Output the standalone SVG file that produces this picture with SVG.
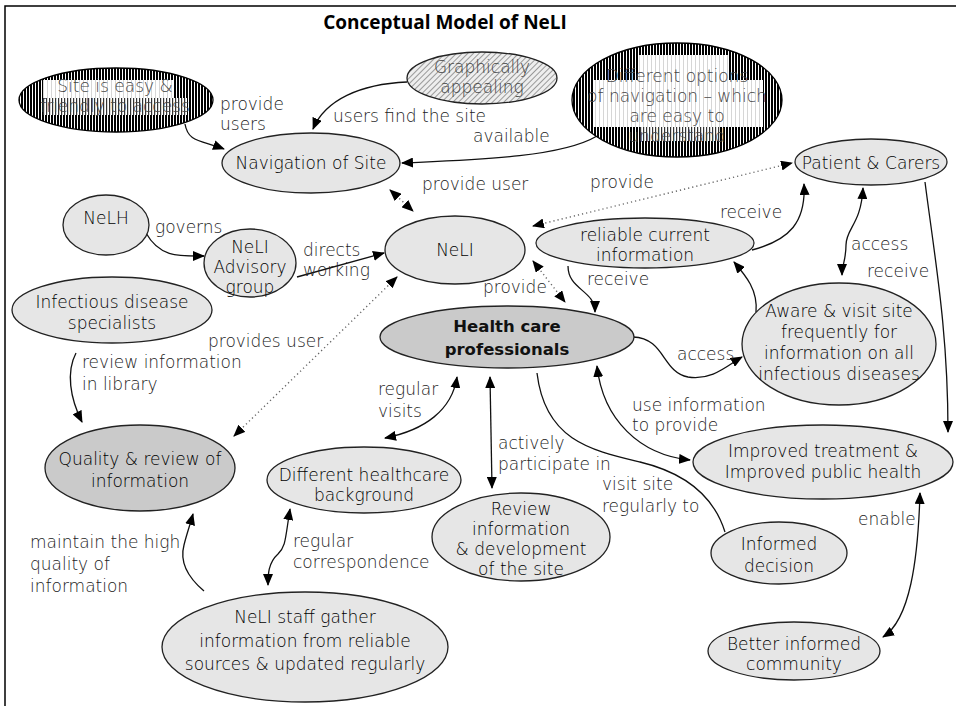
<svg xmlns="http://www.w3.org/2000/svg" width="956" height="715" viewBox="0 0 956 715">
<style>
.lbl{font-family:"DejaVu Sans","Liberation Sans",sans-serif;font-size:17px;font-weight:300;fill:#222}
.nt{font-family:"DejaVu Sans","Liberation Sans",sans-serif;font-size:17px;font-weight:300;fill:#000;text-anchor:middle}
.ntg{font-family:"DejaVu Sans","Liberation Sans",sans-serif;font-size:17px;font-weight:300;fill:#444;text-anchor:middle}
.ntb{font-family:"DejaVu Sans","Liberation Sans",sans-serif;font-size:16.5px;font-weight:bold;fill:#111;text-anchor:middle}
.node{fill:#e6e6e6;stroke:#222;stroke-width:1.3}
.dark{fill:#cacaca;stroke:#222;stroke-width:1.3}
.c{fill:none;stroke:#111;stroke-width:1.3}
.d{fill:none;stroke:#666;stroke-width:1.4;stroke-dasharray:1.2 3}
</style>
<defs>
<marker id="ah" viewBox="0 0 12 10" refX="11" refY="5" markerWidth="12" markerHeight="10" markerUnits="userSpaceOnUse" orient="auto-start-reverse"><path d="M0,0 L12,5 L0,10 z" fill="#000"/></marker>
<pattern id="stripe" width="3" height="4" patternUnits="userSpaceOnUse"><rect width="3" height="4" fill="#000"/><rect x="2" width="1" height="4" fill="#fff"/></pattern>
<pattern id="lstripe" width="4" height="4" patternUnits="userSpaceOnUse"><rect width="4" height="4" fill="#fff"/><rect x="3" width="0.6" height="4" fill="#bbb"/></pattern>
<pattern id="mstripe" width="3" height="4" patternUnits="userSpaceOnUse"><rect width="3" height="4" fill="#fff"/><rect x="1" width="1.2" height="4" fill="#333"/></pattern>
<pattern id="hatch" width="4" height="4" patternUnits="userSpaceOnUse" patternTransform="rotate(45)"><rect width="4" height="4" fill="#eee"/><rect width="1" height="4" fill="#999"/></pattern>
<clipPath id="cp1"><ellipse cx="116" cy="100" rx="97" ry="32"/></clipPath>
<clipPath id="cp2"><ellipse cx="677" cy="100" rx="105" ry="57"/></clipPath>
</defs>
<rect width="956" height="715" fill="#fff"/>
<path d="M5,706 L5,6 L956,6" fill="none" stroke="#000" stroke-width="1.5"/>
<text x="445" y="29" style="font-family:'Open Sans','Noto Sans',sans-serif;font-size:19px;font-weight:bold;fill:#000" text-anchor="middle">Conceptual Model of NeLI</text>

<g id="connectors">
<path class="c" d="M185,124 C188,142 200,140 224,149" marker-end="url(#ah)"/>
<path class="c" d="M407,82 C360,84 325,100 313,129" marker-end="url(#ah)"/>
<path class="c" d="M597,136 C560,158 470,160 402,163" marker-end="url(#ah)"/>
<path class="d" d="M390,190 L413,211" marker-start="url(#ah)" marker-end="url(#ah)"/>
<path class="c" d="M146,233 C160,258 180,256 204,256" marker-end="url(#ah)"/>
<path class="c" d="M297,277 L384,253" marker-end="url(#ah)"/>
<path class="d" d="M234,436 L397,277" marker-start="url(#ah)" marker-end="url(#ah)"/>
<path class="c" d="M76,353 C66,372 70,398 82,422" marker-end="url(#ah)"/>
<path class="d" d="M533,226 L792,163" marker-start="url(#ah)" marker-end="url(#ah)"/>
<path class="c" d="M752,250 C790,240 806,222 804,184" marker-end="url(#ah)"/>
<path class="c" d="M568,266 C568,290 595,290 595,312" marker-end="url(#ah)"/>
<path class="d" d="M533,261 L565,302" marker-start="url(#ah)" marker-end="url(#ah)"/>
<path class="c" d="M633,337 C665,338 662,372 688,377 C712,381 728,365 742,357" marker-end="url(#ah)"/>
<path class="c" d="M756,312 C758,290 746,276 734,262" marker-end="url(#ah)"/>
<path class="c" d="M863,188 C861,225 846,228 846,245 C846,260 842,265 842,275" marker-start="url(#ah)" marker-end="url(#ah)"/>
<path class="c" d="M925,182 C935,260 948,330 948,432" marker-end="url(#ah)"/>
<path class="c" d="M457,377 C452,410 425,430 385,438" marker-start="url(#ah)" marker-end="url(#ah)"/>
<path class="c" d="M490,377 L492,488" marker-start="url(#ah)" marker-end="url(#ah)"/>
<path class="c" d="M537,373 C545,440 590,450 640,462 C690,474 715,500 725,532"/>
<path class="c" d="M597,366 C603,420 640,455 690,460" marker-start="url(#ah)" marker-end="url(#ah)"/>
<path class="c" d="M204,591 C185,575 180,560 184,545 C187,533 190,525 193,514" marker-end="url(#ah)"/>
<path class="c" d="M290,509 C285,540 286,546 278,554 C268,563 268,575 268,585" marker-start="url(#ah)" marker-end="url(#ah)"/>
<path class="c" d="M920,493 C918,560 910,620 883,637" marker-start="url(#ah)" marker-end="url(#ah)"/>
</g>

<g id="labels">
<text class="lbl" x="220" y="110">provide<tspan x="220" dy="20">users</tspan></text>
<text class="lbl" x="333" y="122">users find the site</text>
<text class="lbl" x="473" y="142">available</text>
<text class="lbl" x="422" y="190">provide user</text>
<text class="lbl" x="155" y="233">governs</text>
<text class="lbl" x="303" y="256">directs<tspan x="303" dy="20">working</tspan></text>
<text class="lbl" x="208" y="347">provides user</text>
<text class="lbl" x="82" y="368">review information<tspan x="82" dy="22">in library</tspan></text>
<text class="lbl" x="590" y="188">provide</text>
<text class="lbl" x="720" y="218">receive</text>
<text class="lbl" x="587" y="285">receive</text>
<text class="lbl" x="483" y="293">provide</text>
<text class="lbl" x="851" y="250">access</text>
<text class="lbl" x="867" y="277">receive</text>
<text class="lbl" x="677" y="360">access</text>
<text class="lbl" x="378" y="395">regular<tspan x="378" dy="22">visits</tspan></text>
<text class="lbl" x="498" y="449">actively<tspan x="498" dy="21">participate in</tspan></text>
<text class="lbl" x="632" y="411">use information<tspan x="632" dy="20">to provide</tspan></text>
<text class="lbl" x="602" y="490">visit site<tspan x="602" dy="22">regularly to</tspan></text>
<text class="lbl" x="858" y="525">enable</text>
<text class="lbl" x="30" y="548">maintain the high<tspan x="30" dy="22">quality of</tspan><tspan x="30" dy="22">information</tspan></text>
<text class="lbl" x="293" y="547">regular<tspan x="293" dy="21">correspondence</tspan></text>
</g>

<g id="site-easy">
<ellipse cx="116" cy="100" rx="97" ry="32" fill="url(#stripe)" stroke="#000" stroke-width="1.3"/>
<g clip-path="url(#cp1)">
<rect x="43" y="80" width="130" height="18" fill="url(#lstripe)"/>
<rect x="43" y="98" width="144" height="17" fill="url(#mstripe)"/>
</g>
<text class="ntg" x="115" y="92">Site is easy &amp;<tspan x="115" dy="20">friendly to access</tspan></text>
</g>

<g id="graphically">
<ellipse cx="482" cy="78" rx="75" ry="26" fill="url(#hatch)" stroke="#222" stroke-width="1.3"/>
<text class="ntg" x="482" y="73">Graphically<tspan x="482" dy="20">appealing</tspan></text>
</g>

<g id="options">
<ellipse cx="677" cy="100" rx="105" ry="57" fill="url(#stripe)" stroke="#000" stroke-width="1.3"/>
<g clip-path="url(#cp2)">
<rect x="638" y="55" width="90" height="25" fill="url(#lstripe)"/>
<rect x="593" y="80" width="170" height="47" fill="url(#lstripe)"/>
<rect x="640" y="127" width="80" height="14" fill="url(#mstripe)"/>
</g>
<text class="ntg" x="677" y="82">Different options<tspan x="677" dy="20">of navigation – which</tspan><tspan x="677" dy="20">are easy to</tspan><tspan x="677" dy="20">understand</tspan></text>
</g>

<g id="navigation">
<ellipse class="node" cx="311" cy="163" rx="89" ry="30"/>
<text class="nt" x="311" y="169">Navigation of Site</text>
</g>

<g id="nelh">
<ellipse class="node" cx="106" cy="225" rx="43" ry="30"/>
<text class="nt" x="106" y="224">NeLH</text>
</g>

<g id="advisory">
<ellipse class="node" cx="250" cy="263" rx="46" ry="34"/>
<text class="nt" x="250" y="253">NeLI<tspan x="250" dy="20">Advisory</tspan><tspan x="250" dy="20">group</tspan></text>
</g>

<g id="specialists">
<ellipse class="node" cx="112" cy="310" rx="100" ry="33"/>
<text class="nt" x="112" y="308">Infectious disease<tspan x="112" dy="21">specialists</tspan></text>
</g>

<g id="neli">
<ellipse class="node" cx="455" cy="250" rx="70" ry="34"/>
<text class="nt" x="455" y="256">NeLI</text>
</g>

<g id="reliable">
<ellipse class="node" cx="645" cy="243" rx="109" ry="25"/>
<text class="nt" x="645" y="241">reliable current<tspan x="645" dy="20">information</tspan></text>
</g>

<g id="patient">
<ellipse class="node" cx="871" cy="162" rx="76" ry="23"/>
<text class="nt" x="871" y="169">Patient &amp; Carers</text>
</g>

<g id="hcp">
<ellipse class="dark" cx="507" cy="337" rx="127" ry="31"/>
<text class="ntb" x="507" y="332">Health care<tspan x="507" dy="23">professionals</tspan></text>
</g>

<g id="aware">
<ellipse class="node" cx="839" cy="344" rx="97" ry="61"/>
<text class="nt" x="839" y="317">Aware &amp; visit site<tspan x="839" dy="21">frequently for</tspan><tspan x="839" dy="21">information on all</tspan><tspan x="839" dy="21">infectious diseases</tspan></text>
</g>

<g id="improved">
<ellipse class="node" cx="823" cy="462" rx="130" ry="37"/>
<text class="nt" x="823" y="457">Improved treatment &amp;<tspan x="823" dy="21">Improved public health</tspan></text>
</g>

<g id="quality">
<ellipse class="dark" cx="140" cy="468" rx="95" ry="43"/>
<text class="nt" x="140" y="465">Quality &amp; review of<tspan x="140" dy="22">information</tspan></text>
</g>

<g id="different">
<ellipse class="node" cx="364" cy="480" rx="97" ry="33"/>
<text class="nt" x="364" y="481">Different healthcare<tspan x="364" dy="20">background</tspan></text>
</g>

<g id="review">
<ellipse class="node" cx="521" cy="537" rx="89" ry="44"/>
<text class="nt" x="521" y="515">Review<tspan x="521" dy="20">information</tspan><tspan x="521" dy="20">&amp; development</tspan><tspan x="521" dy="20">of the site</tspan></text>
</g>

<g id="informed">
<ellipse class="node" cx="779" cy="553" rx="68" ry="31"/>
<text class="nt" x="779" y="550">Informed<tspan x="779" dy="22">decision</tspan></text>
</g>

<g id="better">
<ellipse class="node" cx="794" cy="651" rx="86" ry="29"/>
<text class="nt" x="794" y="650">Better informed<tspan x="794" dy="20">community</tspan></text>
</g>

<g id="staff">
<ellipse class="node" cx="305" cy="647" rx="143" ry="55"/>
<text class="nt" x="305" y="623">NeLI staff gather<tspan x="305" dy="24">information from reliable</tspan><tspan x="305" dy="23">sources &amp; updated regularly</tspan></text>
</g>
</svg>
